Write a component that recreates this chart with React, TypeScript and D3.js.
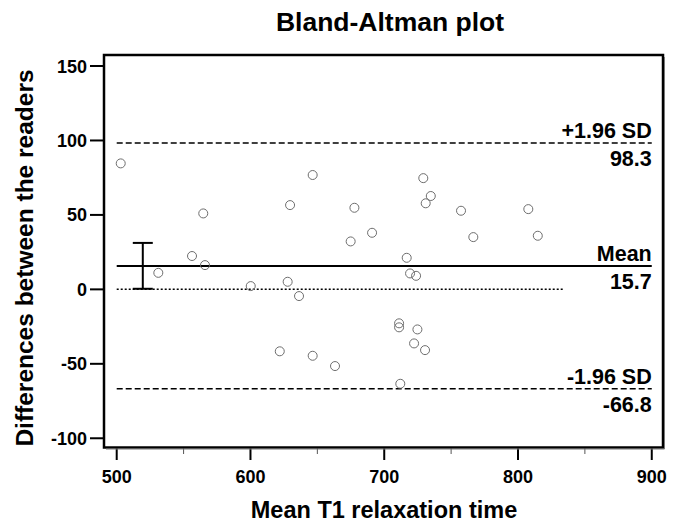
import React, { useEffect, useRef } from 'react'
import { select, scaleLinear } from 'd3'

// mean of the two readers (x) and their difference (y)
const meanT1 = [
  503, 646.5, 629.6, 564.7, 556.3, 566, 531.1,
  729.2, 734.8, 731, 677.7, 757.4, 807.7, 690.9, 674.9, 766.6, 814.8, 716.8, 719.3, 723.8,
  600.2, 627.8, 636.3, 621.9, 646.5, 663.2,
  711.1, 711.1, 724.8, 722.3, 730.5, 712
]
const diffs = [
  84.6, 76.8, 56.6, 51, 22.4, 16.3, 11.1,
  74.7, 62.7, 57.8, 54.8, 52.8, 53.9, 38, 32.2, 35.1, 36, 21.2, 10.7, 9.1,
  2.2, 5.1, -4.5, -41.6, -44.6, -51.5,
  -22.8, -25.5, -26.9, -36.3, -40.8, -63.4
]

const xTicks = [500, 600, 700, 800, 900]
const xMinorTicks = [550, 650, 750, 850]
const yTicks = [150, 100, 50, 0, -50, -100]

const meanDiff = 15.7
const upperLoA = 98.3
const lowerLoA = -66.8
const ciX = 519.5
const ciMean = [0.4, 31.2]
const lineRange = [500, 900]
const zeroRange = [500, 833.5]

const font = '"Liberation Sans", Arial, Helvetica, sans-serif'

function BlandAltman() {
  const ref = useRef<SVGSVGElement | null>(null)

  useEffect(() => {
    const svg = select(ref.current)
    svg.selectAll('*').remove()

    const frame = { l: 104, r: 663, t: 55, b: 447.5 }

    const x = scaleLinear().domain([490.5, 908.4]).range([frame.l, frame.r])
    const y = scaleLinear().domain([157.4, -106.2]).range([frame.t, frame.b])

    // title
    svg.append('text')
      .attr('x', 390).attr('y', 31)
      .attr('text-anchor', 'middle')
      .attr('font-family', font).attr('font-weight', 'bold').attr('font-size', 26.5)
      .text('Bland-Altman plot')

    // y axis ticks + labels
    svg.selectAll('.ytick').data(yTicks).join('line')
      .attr('class', 'ytick')
      .attr('x1', 90).attr('x2', frame.l)
      .attr('y1', d => y(d)).attr('y2', d => y(d))
      .attr('stroke', '#000').attr('stroke-width', 2)

    svg.selectAll('.ylab').data(yTicks).join('text')
      .attr('class', 'ylab')
      .attr('x', 87).attr('y', d => y(d) + 6.5)
      .attr('text-anchor', 'end')
      .attr('font-family', font).attr('font-weight', 'bold').attr('font-size', 18)
      .text(d => d)

    // x axis ticks + labels
    svg.selectAll('.xtick').data(xTicks).join('line')
      .attr('class', 'xtick')
      .attr('x1', d => x(d)).attr('x2', d => x(d))
      .attr('y1', frame.b).attr('y2', 460)
      .attr('stroke', '#000').attr('stroke-width', 2)

    svg.selectAll('.xminor').data(xMinorTicks).join('line')
      .attr('class', 'xminor')
      .attr('x1', d => x(d)).attr('x2', d => x(d))
      .attr('y1', frame.b).attr('y2', 454)
      .attr('stroke', '#555').attr('stroke-width', 1)

    svg.selectAll('.xlab').data(xTicks).join('text')
      .attr('class', 'xlab')
      .attr('x', d => x(d)).attr('y', 483)
      .attr('text-anchor', 'middle')
      .attr('font-family', font).attr('font-weight', 'bold').attr('font-size', 18)
      .text(d => d)

    // axis titles
    svg.append('text')
      .attr('x', 384).attr('y', 518)
      .attr('text-anchor', 'middle')
      .attr('font-family', font).attr('font-weight', 'bold').attr('font-size', 23.5)
      .text('Mean T1 relaxation time')

    svg.append('text')
      .attr('transform', 'translate(33, 258) rotate(-90)')
      .attr('text-anchor', 'middle')
      .attr('font-family', font).attr('font-weight', 'bold').attr('font-size', 24.5)
      .text('Differences between the readers')

    // reference lines
    const hlines = [
      { v: upperLoA, range: lineRange, dash: '6,3', w: 1.5 },
      { v: meanDiff, range: lineRange, dash: null, w: 2 },
      { v: lowerLoA, range: lineRange, dash: '6,3', w: 1.5 },
      { v: 0, range: zeroRange, dash: '2,2', w: 1.5 },
    ]
    svg.selectAll('.hline').data(hlines).join('line')
      .attr('class', 'hline')
      .attr('x1', d => x(d.range[0])).attr('x2', d => x(d.range[1]))
      .attr('y1', d => y(d.v)).attr('y2', d => y(d.v))
      .attr('stroke', '#000').attr('stroke-width', d => d.w)
      .attr('stroke-dasharray', d => d.dash)

    // line labels
    const labels = [
      { v: upperLoA, top: '+1.96 SD', bottom: upperLoA.toFixed(1) },
      { v: meanDiff, top: 'Mean', bottom: meanDiff.toFixed(1) },
      { v: lowerLoA, top: '-1.96 SD', bottom: lowerLoA.toFixed(1) },
    ]
    labels.forEach(l => {
      svg.append('text')
        .attr('x', x(lineRange[1])).attr('y', y(l.v) - 5)
        .attr('text-anchor', 'end')
        .attr('font-family', font).attr('font-weight', 'bold').attr('font-size', 21.5)
        .text(l.top)
      svg.append('text')
        .attr('x', x(lineRange[1])).attr('y', y(l.v) + 23)
        .attr('text-anchor', 'end')
        .attr('font-family', font).attr('font-weight', 'bold').attr('font-size', 21.5)
        .text(l.bottom)
    })

    // CI of mean difference
    const cx = x(ciX)
    svg.append('line')
      .attr('x1', cx).attr('x2', cx)
      .attr('y1', y(ciMean[0])).attr('y2', y(ciMean[1]))
      .attr('stroke', '#000').attr('stroke-width', 2)
    svg.selectAll('.cap').data(ciMean).join('line')
      .attr('class', 'cap')
      .attr('x1', cx - 10).attr('x2', cx + 10)
      .attr('y1', d => y(d)).attr('y2', d => y(d))
      .attr('stroke', '#000').attr('stroke-width', 2)

    // points
    svg.selectAll('.pt').data(meanT1).join('circle')
      .attr('class', 'pt')
      .attr('cx', d => x(d))
      .attr('cy', (d, i) => y(diffs[i]))
      .attr('r', 4.5)
      .attr('fill', 'none')
      .attr('stroke', '#6e6e6e').attr('stroke-width', 1)

    // frame (right/bottom edges a bit heavier, like the original)
    svg.append('rect')
      .attr('x', frame.l).attr('y', frame.t)
      .attr('width', frame.r - frame.l).attr('height', frame.b - frame.t)
      .attr('fill', 'none').attr('stroke', '#000').attr('stroke-width', 2.5)
    svg.append('path')
      .attr('d', `M${frame.r + 1.5},${frame.t + 2}V${frame.b + 1.5}H${frame.l + 2}`)
      .attr('fill', 'none').attr('stroke', '#777').attr('stroke-width', 1)
  }, [])

  return (
    <svg ref={ref} width={680} height={522}
      style={{ position: 'absolute', left: 0, top: 0, background: '#fff' }} />
  )
}

export default function App() {
  return <BlandAltman />
}
